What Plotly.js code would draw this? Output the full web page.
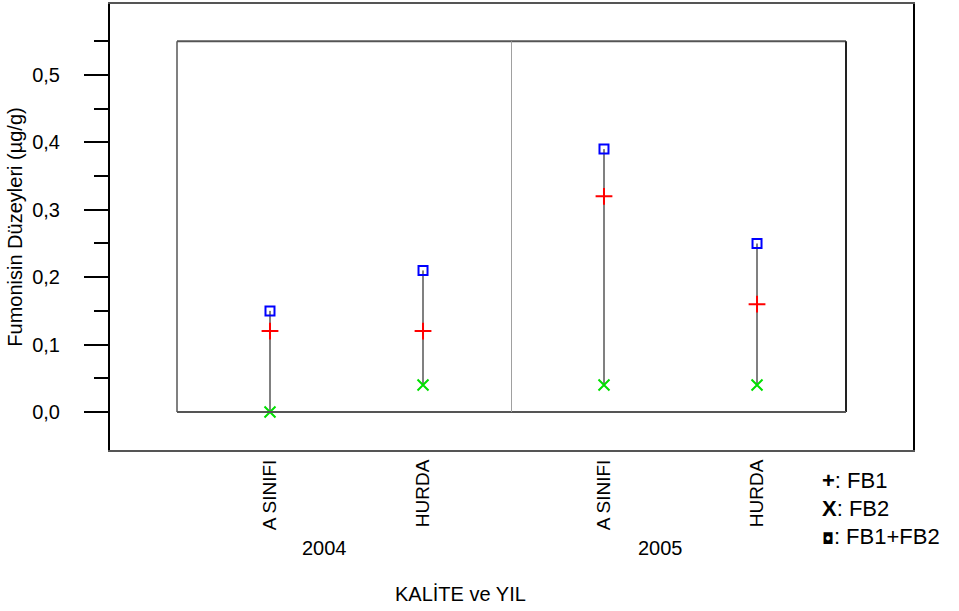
<!DOCTYPE html>
<html>
<head>
<meta charset="utf-8">
<script src="https://cdn.plot.ly/plotly-3.0.1.min.js"></script>
<style>html,body{margin:0;padding:0;background:#fff;}#chart{width:959px;height:611px;}</style>
</head>
<body>
<div id="chart"></div>
<script>
// ---- data ----
var categories = ["A SINIFI", "HURDA", "A SINIFI", "HURDA"];
var years = ["2004", "2005"];
var xPositions = [0.556, 1.471, 2.553, 3.468];
var fb1 = [0.12, 0.12, 0.32, 0.16];
var fb2 = [0.00, 0.04, 0.04, 0.04];
var fb1fb2 = [0.15, 0.21, 0.39, 0.25];
var yTickVals = [0, 0.1, 0.2, 0.3, 0.4, 0.5];
var yMinorVals = [0.05, 0.15, 0.25, 0.35, 0.45, 0.55];

var FONT = "Liberation Sans, Arial, sans-serif";

// vertical range lines
var lx = [], ly = [];
for (var i = 0; i < xPositions.length; i++) {
  lx.push(xPositions[i], xPositions[i], null);
  ly.push(fb2[i], fb1fb2[i], null);
}

var traces = [
  {x: lx, y: ly, mode: "lines", line: {color: "#808080", width: 2}, hoverinfo: "skip", showlegend: false},
  {x: xPositions, y: fb2, mode: "markers", name: "FB2",
   marker: {symbol: "x-thin-open", size: 11, line: {color: "#00e000", width: 2}, color: "#00e000"}},
  {x: xPositions, y: fb1, mode: "markers", name: "FB1",
   marker: {symbol: "cross-thin-open", size: 12, line: {color: "#ff0000", width: 2}, color: "#ff0000"}},
  {x: xPositions, y: fb1fb2, mode: "markers", name: "FB1+FB2",
   marker: {symbol: "square-open", size: 9, line: {color: "#0000ff", width: 2}, color: "#0000ff"}}
];

var groupCenters = [(xPositions[0] + xPositions[1]) / 2 - 0.13, (xPositions[2] + xPositions[3]) / 2 - 0.12];

var layout = {
  width: 959, height: 611,
  margin: {l: 110, r: 46, t: 4, b: 161},
  paper_bgcolor: "#fff", plot_bgcolor: "#fff",
  showlegend: false,
  separators: ",.",
  font: {family: FONT, color: "#000", size: 19},
  xaxis: {
    range: [-0.4006, 4.4006], showgrid: false, zeroline: false,
    tickmode: "array", tickvals: xPositions, ticktext: categories,
    tickangle: -90, ticks: "", tickfont: {size: 19, family: FONT},
    ticklabelstandoff: 0,
    showline: true, linecolor: "#555", linewidth: 2, mirror: true
  },
  yaxis: {
    range: [-0.0564, 0.6053], showgrid: false, zeroline: false,
    tickmode: "array", tickvals: yTickVals, tickformat: ".1f",
    ticks: "outside", ticklen: 24, tickwidth: 2, tickcolor: "#000",
    ticklabelstandoff: 20,
    tickfont: {size: 20, family: FONT},
    minor: {tickmode: "array", tickvals: yMinorVals, ticks: "outside", ticklen: 14, tickwidth: 2, tickcolor: "#000", showgrid: false},
    showline: true, linecolor: "#000", linewidth: 2, mirror: true,
    title: {text: "Fumonisin Düzeyleri (µg/g)", font: {size: 20, family: FONT}, standoff: 4}
  },
  shapes: [
    {type: "line", xref: "x", yref: "y", x0: 0, x1: 0, y0: 0, y1: 0.55, line: {color: "#808080", width: 2}},
    {type: "line", xref: "x", yref: "y", x0: 0, x1: 4, y0: 0.55, y1: 0.55, line: {color: "#555", width: 2}},
    {type: "line", xref: "x", yref: "y", x0: 4, x1: 4, y0: 0, y1: 0.55, line: {color: "#222", width: 2}},
    {type: "line", xref: "x", yref: "y", x0: 0, x1: 4, y0: 0, y1: 0, line: {color: "#555", width: 2}},
    {type: "line", xref: "x", yref: "y", x0: 2, x1: 2, y0: 0, y1: 0.55, line: {color: "#a0a0a0", width: 1}}
  ],
  annotations: [
    {text: years[0], x: groupCenters[0], xref: "x", y: -0.2197, yref: "paper", showarrow: false, xanchor: "center", yanchor: "middle", font: {size: 20}},
    {text: years[1], x: groupCenters[1], xref: "x", y: -0.2197, yref: "paper", showarrow: false, xanchor: "center", yanchor: "middle", font: {size: 20}},
    {text: "KALİTE ve YIL", x: 1.698, xref: "x", y: -0.323, yref: "paper", showarrow: false, xanchor: "center", yanchor: "middle", font: {size: 20}},
    {text: "<b>+</b>: FB1", x: 0.884, xref: "paper", y: -0.0695, yref: "paper", showarrow: false, xanchor: "left", yanchor: "middle", font: {size: 22}},
    {text: "<b>X</b>: FB2", x: 0.884, xref: "paper", y: -0.132, yref: "paper", showarrow: false, xanchor: "left", yanchor: "middle", font: {size: 22}},
    {text: "<span style=\"font-family:'DejaVu Sans';font-size:15px\">◘</span>: FB1+FB2", x: 0.884, xref: "paper", y: -0.195, yref: "paper", showarrow: false, xanchor: "left", yanchor: "middle", font: {size: 22}}
  ]
};

Plotly.newPlot("chart", traces, layout, {displayModeBar: false, staticPlot: true});
</script>
</body>
</html>
